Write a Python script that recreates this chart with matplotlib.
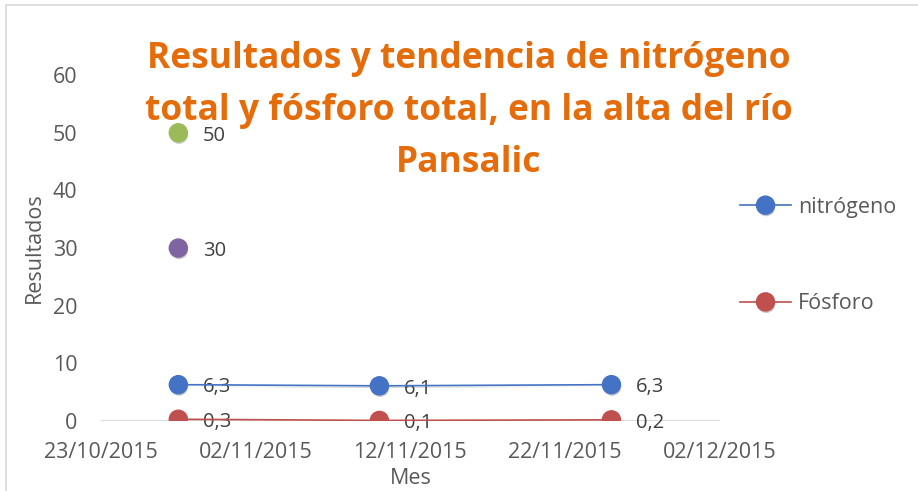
import matplotlib
matplotlib.use('Agg')
import matplotlib.pyplot as plt
import matplotlib.dates as mdates
import matplotlib.patheffects as pe
from datetime import datetime

plt.rcParams['font.family'] = ['Open Sans', 'DejaVu Sans']

# data
fechas = [datetime(2015, 10, 28), datetime(2015, 11, 10), datetime(2015, 11, 25)]
nitrogeno = [6.3, 6.1, 6.3]
fosforo = [0.3, 0.1, 0.2]
extra_fecha = datetime(2015, 10, 28)
extra_vals = [50, 30]
extra_cols = ['#9BBB59', '#8064A2']

tick_dates = [datetime(2015, 10, 23), datetime(2015, 11, 2), datetime(2015, 11, 12),
              datetime(2015, 11, 22), datetime(2015, 12, 2)]
titulo = 'Resultados y tendencia de nitrógeno\ntotal y fósforo total, en la alta del río\nPansalic'

gray = '#595959'
fs = 15.5
shadow = [pe.SimplePatchShadow(offset=(0.5, -1.5), alpha=0.25), pe.Normal()]

fig = plt.figure(figsize=(9.18, 4.91), dpi=100)
ax = fig.add_axes([0.110, 0.1426, 0.674, 0.7044])

def etiquetas(xs, ys):
    for x, y in zip(xs, ys):
        txt = f'{y:g}'.replace('.', ',')
        ax.annotate(txt, (x, y), xytext=(17.5, -2), textcoords='offset points',
                    va='center', ha='left', fontsize=14.5, color='#404040')

ln1, = ax.plot(fechas, nitrogeno, '-o', color='#4472C4', lw=1.2, ms=13,
               label='nitrógeno', zorder=4)
ln1.set_path_effects(shadow)
ln2, = ax.plot(fechas, fosforo, '-o', color='#C0504D', lw=1.2, ms=13,
               label='Fósforo', zorder=4)
ln2.set_path_effects(shadow)
etiquetas(fechas, nitrogeno)
etiquetas(fechas, fosforo)

for v, c in zip(extra_vals, extra_cols):
    p, = ax.plot([extra_fecha], [v], 'o', color=c, ms=13, zorder=4)
    p.set_path_effects(shadow)
    etiquetas([extra_fecha], [v])

ax.set_xlim(tick_dates[0], tick_dates[-1])
ax.set_ylim(0, 60)
ax.set_xticks(tick_dates)
ax.xaxis.set_major_formatter(mdates.DateFormatter('%d/%m/%Y'))
ax.set_yticks(range(0, 61, 10))
ax.tick_params(length=0, labelsize=fs, labelcolor=gray)
ax.tick_params(axis='x', pad=15)
ax.tick_params(axis='y', pad=17)
for s in ax.spines.values():
    s.set_visible(False)
ax.axhline(0, color='#D9D9D9', lw=1.5, zorder=1)
ax.set_ylabel('Resultados', fontsize=fs, color=gray, labelpad=6)
ax.set_xlabel('Mes', fontsize=fs, color=gray, labelpad=4)

fig.text(0.511, 0.774, titulo, ha='center', va='center', fontsize=25.5,
         fontweight='bold', color='#E46C0A', linespacing=1.6)

# legend, placed by hand in figure coordinates
for h, lab, yy in [(ln1, 'nitrógeno', 0.578), (ln2, 'Fósforo', 0.381)]:
    fig.legend([h], [lab], loc='center left', bbox_to_anchor=(0.794, yy),
               frameon=False, fontsize=fs, handlelength=2.4, handletextpad=0.3,
               borderpad=0, labelcolor=gray)

# chart border
fig.add_artist(plt.Line2D([0.006, 0.006], [0, 0.99], color='#D9D9D9', lw=1.2,
                          transform=fig.transFigure))
fig.add_artist(plt.Line2D([0.006, 1], [0.99, 0.99], color='#D9D9D9', lw=1.2,
                          transform=fig.transFigure))

fig.savefig('out.png', dpi=100)
